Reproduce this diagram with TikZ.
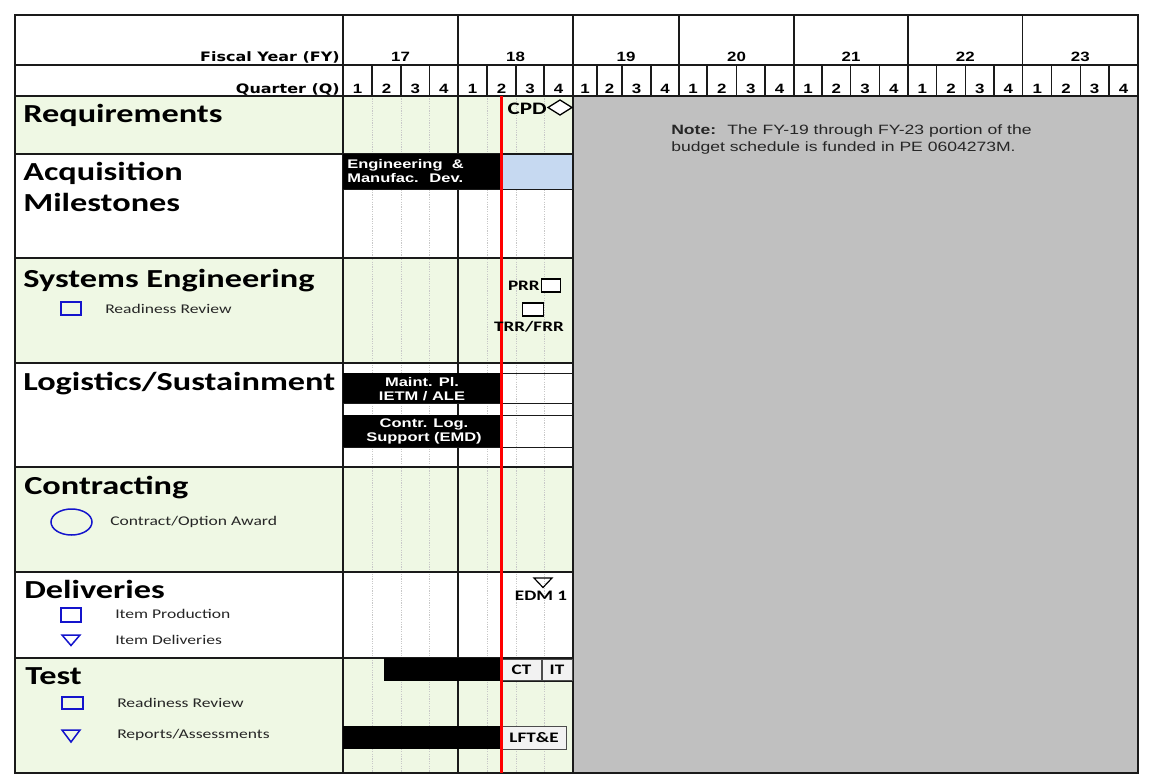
\documentclass[tikz,border=0pt]{standalone}
\usepackage{fontspec}
\setmainfont{Carlito}
\newfontfamily\arialfont{Liberation Sans}
\newfontfamily\heavyfont{DejaVu Sans}
\usetikzlibrary{shapes.geometric}
\definecolor{rowgreen}{HTML}{EFF8E4}
\definecolor{barblue}{HTML}{C6D9F1}
\definecolor{futuregray}{HTML}{C0C0C0}
\definecolor{boxgray}{HTML}{F2F2F2}
\definecolor{legblue}{HTML}{1414CC}
\definecolor{gridline}{HTML}{1A1A1A}
\definecolor{dotline}{HTML}{C8C8C8}
\begin{document}
\begin{tikzpicture}[x=1pt,y=-1pt,
  frameline/.style={draw=gridline,line width=2pt},
  gridrule/.style={draw=gridline,line width=1.4pt},
  subrule/.style={draw=gridline,line width=1pt},
  qdot/.style={draw=dotline,line width=0.6pt,dash pattern=on 1.2pt off 1.2pt},
  heading/.style={anchor=base west,inner sep=0pt,font=\bfseries\fontsize{26}{28}\selectfont,xscale=1.32},
  legtext/.style={anchor=west,inner sep=0pt,font=\fontsize{13.3}{15}\selectfont,xscale=1.32,text=black!85},
  legicon/.style={draw=legblue,line width=1.5pt},
  hdrlabel/.style={anchor=base east,inner sep=0pt,font=\heavyfont\bfseries\fontsize{13}{15}\selectfont,xscale=1.23},
  hdrnum/.style={anchor=base,inner sep=0pt,font=\arialfont\bfseries\fontsize{13.5}{15}\selectfont,xscale=1.25},
  bartext/.style={inner sep=0pt,text=white,align=center,font=\arialfont\bfseries\fontsize{12.5}{14.5}\selectfont,xscale=1.32},
  marktext/.style={inner sep=0pt,font=\bfseries\fontsize{14.5}{16}\selectfont,xscale=1.32},
  milebox/.style={fill=boxgray,draw=black!70,line width=1pt},
  notetext/.style={anchor=base west,inner sep=0pt,font=\arialfont\fontsize{13.5}{16}\selectfont,xscale=1.3,text=black!85}]

\useasboundingbox (0,0) rectangle (1152,784);
\fill[white] (0,0) rectangle (1152,784);

% row shading
\fill[rowgreen] (15,96) rectangle (573,154);
\fill[rowgreen] (15,258) rectangle (573,363);
\fill[rowgreen] (15,467) rectangle (573,572);
\fill[rowgreen] (15,658) rectangle (573,773);
% out-year area
\fill[futuregray] (573,96) rectangle (1138,773);

% quarter guides in FY17-FY18
\foreach \x in {372,401,429.5,487,516,544}
  \draw[qdot] (\x,96) -- (\x,773);

% sub-row rules in the chart area
\foreach \y in {189,373,403,415,447}
  \draw[subrule] (343,\y) -- (573,\y);
\draw[subrule] (501.5,681) -- (573,681);

% grid rules
\foreach \y in {154,258,363,467,572,658}
  \draw[gridrule] (15,\y) -- (573,\y);
\draw[gridrule] (15,65) -- (1138,65);
\draw[gridrule] (15,96) -- (1138,96);
\foreach \x in {343,458,573}
  \draw[gridrule] (\x,15) -- (\x,773);
\foreach \x in {679,794,908,1022.7}
  \draw[gridrule] (\x,15) -- (\x,96);
\foreach \x in {372,401,429.5,487,516,544,597,622,651,707,736.5,765,822,850.5,879.5,936.5,965.5,994,1051.7,1080.3,1109}
  \draw[gridrule] (\x,65) -- (\x,96);

% schedule bars
\fill[black] (343,154) rectangle (501.5,189);
\fill[barblue] (502,155) rectangle (572,188.5);
\fill[black] (343,373) rectangle (501.5,403);
\fill[black] (343,415) rectangle (501.5,447);
\fill[black] (384,658) rectangle (501.5,681);
\fill[black] (343,726) rectangle (501.5,749);

% milestone boxes
\path[milebox] (502,659) rectangle (541,680);
\path[milebox] (542,659) rectangle (572,680);
\path[milebox] (502,726) rectangle (566,749);

\draw[frameline] (15,15) rectangle (1138,773);

% status date
\draw[red,line width=2.5pt] (501.5,96) -- (501.5,773);

% header text
\node[hdrlabel] (fylabel) at (340,62) {Fiscal Year (FY)};
\node[hdrlabel] (qlabel) at (340,93) {Quarter (Q)};
\foreach \a/\b/\t in {343/458/17,458/573/18,573/679/19,679/794/20,794/908/21,908/1022.7/22,1022.7/1138/23}
  \node[hdrnum] (fy\t) at ({(\a+\b)/2},62) {\t};
\foreach \a/\b/\t [count=\i] in {343/372/1,372/401/2,401/429.5/3,429.5/458/4,
  458/487/1,487/516/2,516/544/3,544/573/4,
  573/597/1,597/622/2,622/651/3,651/679/4,
  679/707/1,707/736.5/2,736.5/765/3,765/794/4,
  794/822/1,822/850.5/2,850.5/879.5/3,879.5/908/4,
  908/936.5/1,936.5/965.5/2,965.5/994/3,994/1022.7/4,
  1022.7/1051.7/1,1051.7/1080.3/2,1080.3/1109/3,1109/1138/4}
  \node[hdrnum] (q\i) at ({(\a+\b)/2},93) {\t};

% category headings
\node[heading] (hreq) at (23,122) {Requirements};
\node[heading] (hacq) at (23,180) {Acquisition};
\node[heading] (hmil) at (23,211) {Milestones};
\node[heading] (hse) at (23,287) {Systems Engineering};
\node[heading] (hlog) at (23,390) {Logistics/Sustainment};
\node[heading] (hcon) at (24,494) {Contracting};
\node[heading] (hdel) at (24,598) {Deliveries};
\node[heading] (htest) at (25,684) {Test};

% legends
\draw[legicon] (61,302) rectangle (81,315);
\node[legtext] (lse) at (105,309) {Readiness Review};
\draw[legicon] (71.5,522) ellipse [x radius=20.5,y radius=13];
\node[legtext] (lcon) at (110,522) {Contract/Option Award};
\draw[legicon] (61,608) rectangle (81,622);
\node[legtext] (lprod) at (115,614) {Item Production};
\draw[legicon,line join=miter] (62,635) -- (80,635) -- (71,645.5) -- cycle;
\node[legtext] (ldel) at (115,640) {Item Deliveries};
\draw[legicon] (62,697) rectangle (83,709);
\node[legtext] (ltrr) at (117,703) {Readiness Review};
\draw[legicon,line join=miter] (62,730) -- (80,730) -- (71,742) -- cycle;
\node[legtext] (lrep) at (117,735) {Reports/Assessments};

% milestones
\node[marktext,anchor=base east,font=\bfseries\fontsize{17.5}{19}\selectfont] (cpd) at (547,114) {CPD};
\draw[fill=white,line width=1.3pt] (548,107.5) -- (560,100) -- (572,107.5) -- (560,115) -- cycle;
\node[marktext,anchor=east] (prr) at (540,286) {PRR};
\draw[fill=white,line width=1.3pt] (541.7,279) rectangle (560.7,292);
\draw[fill=white,line width=1.3pt] (522.7,303) rectangle (543.3,316);
\node[marktext] (trr) at (529,327) {TRR/FRR};
\draw[line width=1.2pt,line join=miter] (534,578) -- (552,578) -- (543,587.5) -- cycle;
\node[marktext] (edm) at (541,596) {EDM 1};
\node[marktext] (ct) at (521.5,669.5) {CT};
\node[marktext] (it) at (557,669.5) {IT};
\node[marktext] (lfte) at (534,737.5) {LFT\&E};

% bar labels
\node[bartext,anchor=north west,align=left] (emd) at (347,159) {Engineering \ \&\\Manufac. \ Dev.};
\node[bartext] (maint) at (422,389) {Maint. Pl.\\IETM / ALE};
\node[bartext] (clsemd) at (424,431.5) {Contr. Log.\\Support (EMD)};

% note
\node[notetext] (note1) at (671,134) {\textbf{Note:} \ The FY-19 through FY-23 portion of the};
\node[notetext] (note2) at (671,151) {budget schedule is funded in PE 0604273M.};
\end{tikzpicture}
\end{document}
